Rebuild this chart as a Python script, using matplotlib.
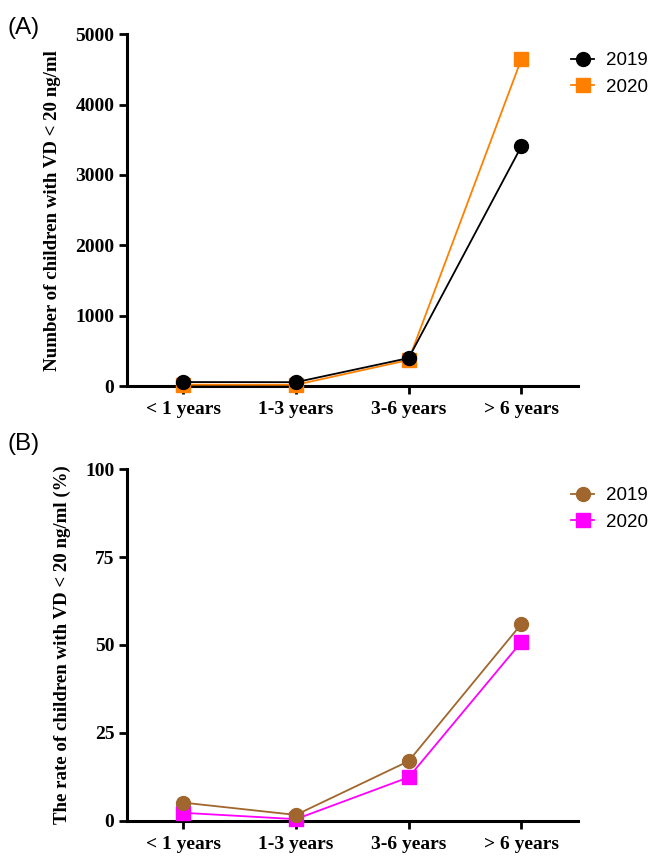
import matplotlib
matplotlib.use("Agg")
import matplotlib.pyplot as plt
from matplotlib.lines import Line2D

categories = ["< 1 years", "1-3 years", "3-6 years", "> 6 years"]
count_2019 = [57, 55, 398, 3409]
count_2020 = [20, 18, 370, 4649]
rate_2019 = [5.2, 1.7, 17.0, 56.0]
rate_2020 = [2.3, 0.5, 12.4, 50.9]
yticks_a = [0, 1000, 2000, 3000, 4000, 5000]
yticks_b = [0, 25, 50, 75, 100]

fig = plt.figure(figsize=(6.5, 8.56), dpi=100)
axA = fig.add_axes([0.195, 0.549, 0.694, 0.411])
axB = fig.add_axes([0.195, 0.041, 0.694, 0.411])

serif_bold = dict(family="Liberation Serif", weight="bold")

def style(ax, yticks, ylabel):
    for s in ["top", "right"]:
        ax.spines[s].set_visible(False)
    for s in ["left", "bottom"]:
        ax.spines[s].set_linewidth(2.2)
    ax.set_xlim(-0.5, 3.5)
    ax.set_ylim(yticks[0], yticks[-1])
    ax.set_yticks(yticks)
    ax.set_xticks(range(len(categories)))
    ax.set_xticklabels(categories, fontsize=14, **serif_bold)
    ax.set_yticklabels([str(t) for t in yticks], fontsize=14, **serif_bold)
    ax.tick_params(width=2, length=6)
    ax.tick_params(axis="x", pad=5)
    ax.tick_params(axis="y", pad=3)
    ax.set_ylabel(ylabel, fontsize=13.6, labelpad=10, **serif_bold)

def plot_panel(ax, x, y19, y20, c19, c20):
    ax.plot(x, y20, color=c20, marker="s", markersize=9.5, lw=1.3, clip_on=False, zorder=3)
    ax.plot(x, y19, color=c19, marker="o", markersize=10, lw=1.3, clip_on=False, zorder=4)
    handles = [Line2D([], [], color=c19, marker="o", markersize=10, lw=1.3),
               Line2D([], [], color=c20, marker="s", markersize=9.5, lw=1.3)]
    return handles

def add_legend(ax, handles):
    ax.legend(handles, ["2019", "2020"], loc="upper left", bbox_to_anchor=(0.968, 0.97),
              frameon=False, prop=dict(family="Liberation Sans", size=13.5),
              handlelength=1.25, handletextpad=0.6, labelspacing=0.5, borderaxespad=0)

x = list(range(len(categories)))
hA = plot_panel(axA, x, count_2019, count_2020, "black", "#FF8000")
style(axA, yticks_a, "Number of children with VD < 20 ng/ml")
add_legend(axA, hA)

hB = plot_panel(axB, x, rate_2019, rate_2020, "#A0662D", "#FF00FF")
style(axB, yticks_b, "The rate of children with VD < 20 ng/ml (%)")
add_legend(axB, hB)

fig.text(0.012, 0.98, "(A)", fontsize=17.5, family="Liberation Sans", va="top")
fig.text(0.012, 0.494, "(B)", fontsize=17.5, family="Liberation Sans", va="top")

fig.savefig("out.png", dpi=100)
